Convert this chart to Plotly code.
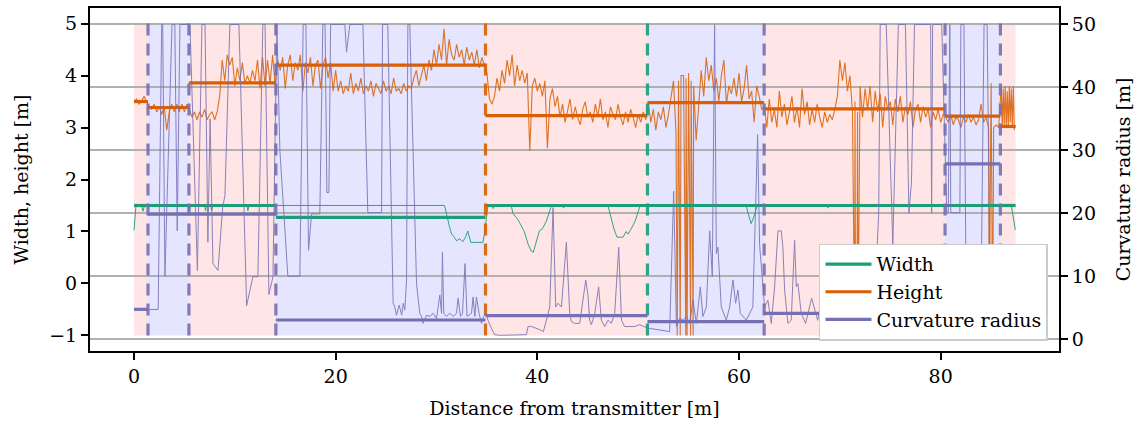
import plotly.graph_objects as go

# ---------------------------------------------------------------- data
# segment boundaries along the route [m] and shading of each segment
seg_edges = [0.0, 1.39, 5.45, 14.07, 34.86, 50.92, 62.49, 80.43, 85.92, 87.43]
seg_shade = ["red", "blue", "red", "blue", "red", "blue", "red", "blue", "red"]

# per-segment averages
seg_width = [1.5, 1.5, 1.5, 1.27, 1.5, 1.5, 1.5, 1.5, 1.5]
seg_height = [3.50, 3.385, 3.86, 4.20, 3.23, 3.48, 3.36, 3.22, 3.02]
seg_curv = [4.73, 19.87, 19.87, 3.04, 3.73, 2.78, 4.10, 27.86, 3.5]

# segment splits and the quantity that caused each split
split_pos = [1.39, 5.45, 14.07, 34.86, 50.92, 62.49, 80.43, 85.92]
split_kind = ["curv", "curv", "curv", "height", "width", "curv", "curv", "curv"]
band_lo, band_hi = -1.0, 5.0

# raw width measurements (distance, width)
width_raw = [
    (0.0, 1.02), (0.2, 1.5), (0.75, 1.5), (0.9, 1.39), (1.05, 1.5), (5.35, 1.5),
    (5.5, 1.39), (5.65, 1.5), (7.0, 1.5), (7.1, 1.4), (7.2, 1.5), (7.6, 1.5),
    (7.7, 1.4), (7.8, 1.5), (11.2, 1.5), (11.3, 1.4), (11.4, 1.5), (30.8, 1.5),
    (31.3, 1.08), (31.5, 0.95), (31.8, 0.88), (32.0, 0.82), (32.3, 0.86),
    (32.6, 0.80), (32.9, 0.9), (33.1, 1.01), (33.4, 0.79), (34.6, 0.79),
    (34.76, 0.95), (35.1, 1.5), (35.5, 1.5), (35.6, 1.44), (35.7, 1.5),
    (37.4, 1.5), (37.6, 1.34), (38.0, 1.25), (38.3, 1.15), (38.7, 1.0),
    (39.1, 0.75), (39.4, 0.62), (39.6, 0.6), (39.9, 0.8), (40.2, 1.01),
    (40.5, 1.05), (40.9, 1.2), (41.4, 1.5), (42.5, 1.5), (42.6, 1.45),
    (42.7, 1.5), (47.0, 1.5), (47.3, 1.25), (47.6, 1.05), (47.9, 0.89),
    (48.5, 0.89), (48.8, 1.0), (49.0, 0.95), (49.3, 1.05), (49.7, 1.2),
    (50.2, 1.5), (60.7, 1.5), (60.9, 1.35), (61.2, 1.15), (61.5, 1.3),
    (61.8, 1.5), (68.7, 1.5), (68.8, 1.45), (68.9, 1.5), (87.0, 1.5), (87.4, 1.03),
]

# raw height measurements, logged in runs: (start distance, spacing, values)
height_runs = [
    (0.0, 0.25, [3.5, 3.55, 3.45, 3.5, 3.6, 3.5]),
    (1.5, 0.25, [3.4, 3.35, 3.45, 3.3, 3.4, 3.25, 3.4, 2.95, 3.3, 3.45, 3.3, 3.45,
                 3.3, 3.45, 3.3, 3.45]),
    (5.5, 0.25, [3.35, 3.2, 3.3, 3.15, 3.3, 3.2, 3.35, 3.15, 3.25, 3.3, 3.15, 3.3]),
    (8.5, 0.25, [3.6, 4.3, 3.9, 4.4, 4.2, 4.35, 3.8, 4.15, 3.9, 4.25, 3.85, 4.0,
                 3.85, 4.1, 3.9, 4.3, 3.75, 4.35, 3.8, 4.3, 3.85, 4.4, 3.8]),
    (14.25, 0.25, [4.3, 4.1, 4.35, 3.75, 4.2, 4.4, 3.9, 4.25, 4.1, 4.4, 3.7, 4.25,
                   4.05, 4.35, 3.8, 4.2, 4.3, 3.75, 4.2, 4.35, 3.95, 4.25, 3.7, 4.1]),
    (20.25, 0.25, [3.7, 3.9, 3.65, 3.8, 3.7, 4.05, 3.65, 3.85, 3.7, 3.95, 3.65, 3.8,
                   3.7, 3.9, 3.6, 3.85, 3.75, 3.65, 3.9, 3.7, 3.8, 3.65, 3.95, 3.7,
                   3.75, 3.65, 3.85, 3.7, 3.8, 3.75, 3.95, 4.1, 3.8]),
    (28.5, 0.25, [4.0, 4.2, 3.9, 4.3, 4.1, 4.5, 4.2, 4.6, 4.3, 4.9, 4.2, 4.7, 4.4,
                  4.3, 4.6, 4.35, 4.5, 4.2, 4.55, 4.3, 4.45, 4.2, 4.5, 4.15, 4.35, 4.2]),
    (35.0, 0.25, [4.05, 3.55, 3.45, 3.6, 3.95, 3.7, 4.1, 3.85, 4.3, 4.0, 4.4, 3.8,
                  4.2, 3.9]),
    (38.5, 0.25, [4.1, 3.85, 4.05, 2.55, 3.8, 3.95, 3.7, 3.85, 3.6, 3.9, 2.6, 3.55,
                  3.75, 3.4, 3.6]),
    (42.25, 0.25, [3.2, 3.45, 3.1, 3.3, 3.55, 3.15, 3.4, 3.2, 3.05, 3.35, 3.5, 3.2,
                   3.3, 3.1, 3.45, 3.2, 3.55, 3.15, 3.3, 3.0, 3.4, 3.25, 3.15, 3.45,
                   3.2, 3.05, 3.3, 3.1, 3.35, 3.2, 3.0, 3.25, 3.1, 3.3, 3.15]),
    (51.0, 0.25, [3.5, 3.1, 3.35, 2.95, 3.3, 3.15, 3.4, 3.0, 3.25, 3.6, 3.9]),
    (53.75, 0.25, [2.9, 3.9, 4.0, 4.0, 3.95, 4.05, 3.9, 3.8, 2.75, 3.4]),
    (56.25, 0.25, [4.1, 3.6, 4.35, 3.9, 4.2, 3.7, 3.95, 3.5, 4.0, 4.3, 3.45, 3.8,
                   3.65, 3.95, 3.6, 4.05, 3.5, 3.75, 4.2, 3.55, 3.7, 3.1, 3.8, 3.6, 3.35]),
    (62.5, 0.25, [3.4, 3.0, 3.55, 3.1, 3.35, 3.0, 3.7, 3.2, 3.45, 3.05, 3.3, 3.6,
                  3.1, 3.4, 3.0, 3.75, 3.25, 3.5, 3.05, 3.35, 3.1, 3.45, 3.2, 3.0,
                  3.3, 3.1, 3.25, 3.15, 3.35]),
    (69.75, 0.25, [3.6, 4.3, 3.9, 4.25, 3.7, 4.0, 3.3]),
    (71.5, 0.25, [3.5, 3.3, 3.8, 3.2, 3.75, 3.35, 3.8, 3.1, 3.7, 3.3, 3.65, 3.0,
                  3.6, 3.35, 3.5, 3.05, 3.55, 3.3, 3.6, 3.1, 3.4, 3.25, 3.5, 3.0,
                  3.35, 3.45, 3.1, 3.4, 3.2, 3.35, 3.0, 3.3, 3.15, 3.35, 3.1, 3.25]),
    (80.5, 0.25, [3.2, 3.1, 3.25, 3.05, 3.2, 3.15, 3.0, 3.2, 3.1, 3.25, 3.1, 3.2,
                  3.05, 3.15, 3.45, 3.1, 3.2, 3.0, 3.85, 3.0, 3.05, 3.0]),
    (86.0, 0.1, [3.8, 3.0, 3.75, 3.05, 3.8, 3.0, 3.7, 3.0, 3.8, 3.1, 3.75, 3.0,
                 3.8, 2.95]),
]
# sensor dropouts reported as -1 m
height_dropouts = [
    (53.87, -1.0), (54.17, -1.0), (54.72, -1.0), (54.85, -1.0), (55.2, -1.0),
    (55.45, -1.0), (71.47, -1.0), (71.56, -1.0), (71.7, -1.0), (71.8, -1.0),
    (84.8, -1.0), (85.15, -1.0),
]

# raw curvature radius (distance, radius), clipped at 50 m
curvature_raw = [
    (0.00, 4.7), (2.40, 4.7), (2.75, 50.0), (2.85, 50.0), (3.07, 10.0), (3.77, 50.0),
    (4.05, 50.0), (4.29, 17.2), (4.56, 50.0), (5.55, 50.0), (6.29, 10.9), (6.74, 50.0),
    (7.05, 50.0), (7.33, 15.4), (7.55, 35.0), (7.83, 12.0), (8.33, 10.9), (8.80, 21.0),
    (9.02, 22.8), (9.51, 50.0), (10.41, 50.0), (11.17, 5.3), (11.79, 9.9), (12.29, 9.9),
    (12.78, 50.0), (13.00, 50.0), (13.38, 7.1), (13.78, 9.9), (14.17, 50.0), (14.47, 30.0),
    (15.26, 10.0), (16.45, 10.0), (16.78, 50.0), (17.05, 50.0), (17.31, 14.1), (17.61, 19.9),
    (18.43, 19.9), (18.73, 50.0), (18.95, 50.0), (19.13, 23.3), (19.33, 23.3), (19.50, 50.0),
    (20.91, 50.0), (21.08, 45.6), (21.41, 50.0), (22.70, 50.0), (23.19, 20.1), (24.55, 20.1),
    (24.65, 50.0), (25.17, 50.0), (25.70, 5.7), (25.87, 5.1), (26.03, 3.8), (26.30, 5.4),
    (26.55, 3.8), (26.70, 5.7), (26.86, 4.6), (27.03, 9.4), (27.16, 50.0), (27.35, 50.0),
    (28.02, 8.8), (28.18, 6.7), (28.34, 4.1), (28.51, 3.6), (28.67, 2.5), (29.01, 3.8),
    (29.34, 3.6), (29.66, 4.1), (30.00, 3.3), (30.33, 7.0), (30.50, 4.1), (30.59, 13.8),
    (30.72, 4.1), (30.99, 3.6), (31.32, 4.1), (31.65, 3.6), (31.98, 4.1), (32.14, 6.5),
    (32.38, 3.6), (32.58, 4.1), (32.83, 12.0), (33.03, 3.6), (33.47, 4.1), (33.63, 6.7),
    (33.80, 3.6), (33.96, 6.7), (34.22, 4.1), (34.46, 2.5), (34.69, 3.6), (34.89, 4.1),
    (35.11, 3.0), (35.45, 1.7), (35.78, 0.7), (36.27, 0.6), (38.92, 0.7), (39.08, 2.0),
    (39.42, 2.0), (40.24, 1.5), (40.60, 1.2), (40.90, 3.0), (41.23, 5.1), (41.56, 20.9),
    (41.82, 5.1), (42.05, 5.7), (42.39, 5.1), (42.88, 15.4), (43.21, 4.1), (43.38, 2.8),
    (43.71, 2.5), (44.20, 2.5), (44.53, 6.7), (44.80, 9.4), (45.02, 7.0), (45.19, 3.0),
    (45.36, 2.3), (45.69, 4.1), (46.08, 8.3), (46.35, 3.0), (46.68, 2.0), (47.01, 3.0),
    (47.34, 2.5), (47.67, 4.1), (48.07, 14.6), (48.34, 3.0), (48.66, 2.0), (49.65, 2.0),
    (50.15, 2.3), (50.55, 2.0), (51.14, 1.7), (52.13, 1.5), (53.12, 1.2), (53.52, 23.5),
    (53.79, 2.0), (54.11, 3.3), (54.44, 3.0), (54.78, 3.6), (55.10, 2.5), (55.43, 6.2),
    (55.77, 2.5), (56.16, 8.3), (56.42, 3.6), (56.76, 5.1), (57.09, 17.2), (57.35, 9.9),
    (57.58, 50.0), (57.75, 13.6), (57.91, 14.6), (58.24, 5.1), (58.74, 3.0), (59.07, 5.1),
    (59.40, 9.4), (59.66, 5.7), (59.89, 7.8), (60.13, 4.1), (60.72, 3.0), (61.37, 5.1),
    (61.84, 32.5), (62.04, 15.0), (62.54, 5.1), (62.86, 6.2), (63.20, 2.5), (63.53, 8.3),
    (63.86, 17.2), (64.19, 17.2), (64.35, 14.6), (64.52, 7.8), (64.85, 2.5), (65.18, 3.0),
    (65.51, 15.7), (65.68, 8.3), (65.84, 8.8), (66.17, 4.1), (66.60, 2.5), (67.20, 6.5),
    (67.80, 3.0), (68.50, 9.0), (69.00, 3.5), (69.70, 5.5), (70.30, 2.5), (71.00, 7.5),
    (71.60, 3.0), (72.30, 10.5), (72.90, 4.0), (73.50, 8.0), (73.85, 20.0), (74.00, 50.0),
    (74.60, 50.0), (75.25, 15.1), (75.80, 50.0), (76.50, 50.0), (76.85, 20.0), (77.10, 25.0),
    (77.40, 50.0), (79.00, 50.0), (79.10, 20.0), (79.20, 50.0), (80.10, 50.0), (80.60, 20.1),
    (80.75, 20.1), (80.90, 50.0), (81.00, 20.1), (81.90, 20.1), (82.00, 50.0), (82.30, 50.0),
    (82.50, 12.0), (83.00, 8.0), (83.50, 10.0), (84.00, 7.0), (84.30, 50.0), (84.60, 50.0),
    (84.90, 9.0), (85.40, 5.0), (85.90, 4.0), (86.60, 3.0), (87.40, 3.5),
]

x_ticks = [0, 20, 40, 60, 80]
y_ticks = [-1, 0, 1, 2, 3, 4, 5]
y2_ticks = [0, 10, 20, 30, 40, 50]

# ---------------------------------------------------------------- styling
GREEN, ORANGE, PURPLE = "#1b9e77", "#d95f02", "#7570b3"
kind_color = {"width": GREEN, "height": ORANGE, "curv": PURPLE}
shade_color = {"red": "rgba(255,0,0,0.1)", "blue": "rgba(0,0,255,0.1)"}
FONT = "DejaVu Serif"
FS = 19

# ---------------------------------------------------------------- series
height_pts = []
for start, step, vals in height_runs:
    height_pts += [(start + k * step, v) for k, v in enumerate(vals)]
height_pts = sorted(height_pts + height_dropouts)


def segments(values):
    """One horizontal bar per segment, not joined to its neighbours."""
    xs, ys = [], []
    for x0, x1, v in zip(seg_edges[:-1], seg_edges[1:], values):
        xs += [x0, x1, None]
        ys += [v, v, None]
    return xs, ys


fig = go.Figure()

# raw measurements (thin)
fig.add_trace(go.Scatter(x=[p[0] for p in width_raw], y=[p[1] for p in width_raw],
                         mode="lines", line=dict(color=GREEN, width=1),
                         opacity=0.9, showlegend=False, hoverinfo="skip"))
fig.add_trace(go.Scatter(x=[p[0] for p in height_pts], y=[p[1] for p in height_pts],
                         mode="lines", line=dict(color=ORANGE, width=1.1),
                         opacity=0.85, showlegend=False, hoverinfo="skip"))

# segment averages (thick)
sx, sy = segments(seg_width)
fig.add_trace(go.Scatter(x=sx, y=sy, mode="lines", line=dict(color=GREEN, width=3.2),
                         connectgaps=False, name="Width"))
sx, sy = segments(seg_height)
fig.add_trace(go.Scatter(x=sx, y=sy, mode="lines", line=dict(color=ORANGE, width=3.2),
                         connectgaps=False, name="Height"))

# segment split markers
for pos, kind in zip(split_pos, split_kind):
    fig.add_trace(go.Scatter(x=[pos, pos], y=[band_lo, band_hi], mode="lines",
                             line=dict(color=kind_color[kind], width=3.2, dash="12px,8px"),
                             opacity=0.9, showlegend=False, hoverinfo="skip"))

# curvature on the secondary axis
fig.add_trace(go.Scatter(x=[p[0] for p in curvature_raw], y=[p[1] for p in curvature_raw],
                         mode="lines", line=dict(color=PURPLE, width=1), opacity=0.85,
                         yaxis="y2", showlegend=False, hoverinfo="skip"))
sx, sy = segments(seg_curv)
fig.add_trace(go.Scatter(x=sx, y=sy, mode="lines", line=dict(color=PURPLE, width=3.2),
                         connectgaps=False, yaxis="y2", name="Curvature radius"))

# segment shading
shapes = []
for x0, x1, c in zip(seg_edges[:-1], seg_edges[1:], seg_shade):
    shapes.append(dict(type="rect", xref="x", yref="y", x0=x0, x1=x1, y0=band_lo, y1=band_hi,
                       fillcolor=shade_color[c], line=dict(width=0), layer="below"))

axis_common = dict(showline=True, linecolor="black", linewidth=2, ticks="outside",
                   ticklen=7, tickwidth=1.5, tickcolor="black", zeroline=False,
                   tickfont=dict(family=FONT, size=FS, color="black"))
title_font = dict(family=FONT, size=FS, color="black")

fig.update_layout(
    width=1140, height=425,
    margin=dict(l=90, r=81, t=6, b=74),
    plot_bgcolor="white", paper_bgcolor="white",
    font=dict(family=FONT, size=FS, color="black"),
    shapes=shapes,
    xaxis=dict(range=[-4.36, 91.73], tickvals=x_ticks, mirror=True, showgrid=False,
               title=dict(text="Distance from transmitter [m]", standoff=16, font=title_font),
               **axis_common),
    yaxis=dict(range=[-1.3, 5.3], tickvals=y_ticks, mirror=True, showgrid=False,
               title=dict(text="Width, height [m]", standoff=16, font=title_font),
               **axis_common),
    yaxis2=dict(range=[-1.89, 52.62], tickvals=y2_ticks, overlaying="y", side="right",
                showgrid=True, gridcolor="#b0b0b0", gridwidth=1.6,
                title=dict(text="Curvature radius [m]", standoff=22, font=title_font),
                **axis_common),
    legend=dict(x=0.9886, y=0.03, xanchor="right", yanchor="bottom",
                bgcolor="white", bordercolor="#cccccc", borderwidth=1.5,
                font=dict(family=FONT, size=FS), itemwidth=46, tracegroupgap=0),
)

fig.write_html("out.html")
